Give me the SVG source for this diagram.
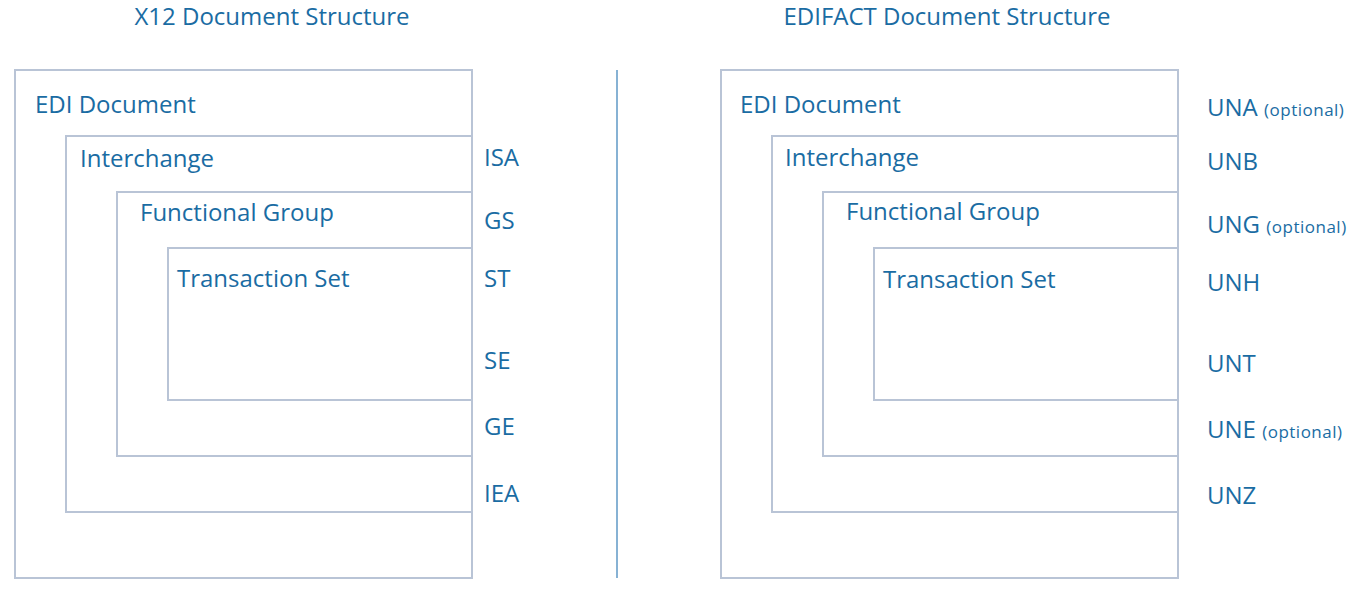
<svg xmlns="http://www.w3.org/2000/svg" width="1363" height="600" viewBox="0 0 1363 600">
<style>
  text { font-family: "Open Sans", "DejaVu Sans", sans-serif; fill: #1a6ca3; }
  .title { font-size: 24px; text-anchor: middle; }
  .lbl { font-size: 24px; }
  .seg { font-size: 24px; }
  .opt { font-size: 17px; letter-spacing: 0.5px; }
  .box { fill: none; stroke: #b9c4d6; stroke-width: 2; }
  .divider { stroke: #5f98c6; stroke-width: 1.5; }
</style>
<rect width="1363" height="600" fill="#ffffff"/>

<text class="title" x="272" y="25">X12 Document Structure</text>
<text class="title" x="947" y="25">EDIFACT Document Structure</text>

<g id="connectors">
  <line class="divider" x1="617" y1="70" x2="617" y2="578"/>
</g>

<!-- X12 -->
<g id="x12-edi-document">
  <rect class="box" x="15" y="70" width="457" height="508"/>
  <text class="lbl" x="35" y="113">EDI Document</text>
</g>
<g id="x12-interchange">
  <rect class="box" x="66" y="136" width="406" height="376"/>
  <text class="lbl" x="80" y="167">Interchange</text>
</g>
<g id="x12-functional-group">
  <rect class="box" x="117" y="192" width="355" height="264"/>
  <text class="lbl" x="140" y="221">Functional Group</text>
</g>
<g id="x12-transaction-set">
  <rect class="box" x="168" y="248" width="304" height="152"/>
  <text class="lbl" x="177" y="287">Transaction Set</text>
</g>
<g id="x12-segments">
  <text class="seg" x="484" y="166">ISA</text>
  <text class="seg" x="484" y="229">GS</text>
  <text class="seg" x="484" y="287">ST</text>
  <text class="seg" x="484" y="369">SE</text>
  <text class="seg" x="484" y="435">GE</text>
  <text class="seg" x="484" y="502">IEA</text>
</g>

<!-- EDIFACT -->
<g id="edifact-edi-document">
  <rect class="box" x="721" y="70" width="457" height="508"/>
  <text class="lbl" x="740" y="113">EDI Document</text>
</g>
<g id="edifact-interchange">
  <rect class="box" x="772" y="136" width="406" height="376"/>
  <text class="lbl" x="785" y="166">Interchange</text>
</g>
<g id="edifact-functional-group">
  <rect class="box" x="823" y="192" width="355" height="264"/>
  <text class="lbl" x="846" y="220">Functional Group</text>
</g>
<g id="edifact-transaction-set">
  <rect class="box" x="874" y="248" width="304" height="152"/>
  <text class="lbl" x="883" y="288">Transaction Set</text>
</g>
<g id="edifact-segments">
  <text class="seg" x="1207" y="116">UNA <tspan class="opt">(optional)</tspan></text>
  <text class="seg" x="1207" y="170">UNB</text>
  <text class="seg" x="1207" y="233">UNG <tspan class="opt">(optional)</tspan></text>
  <text class="seg" x="1207" y="291">UNH</text>
  <text class="seg" x="1207" y="372">UNT</text>
  <text class="seg" x="1207" y="438">UNE <tspan class="opt">(optional)</tspan></text>
  <text class="seg" x="1207" y="504">UNZ</text>
</g>
</svg>
